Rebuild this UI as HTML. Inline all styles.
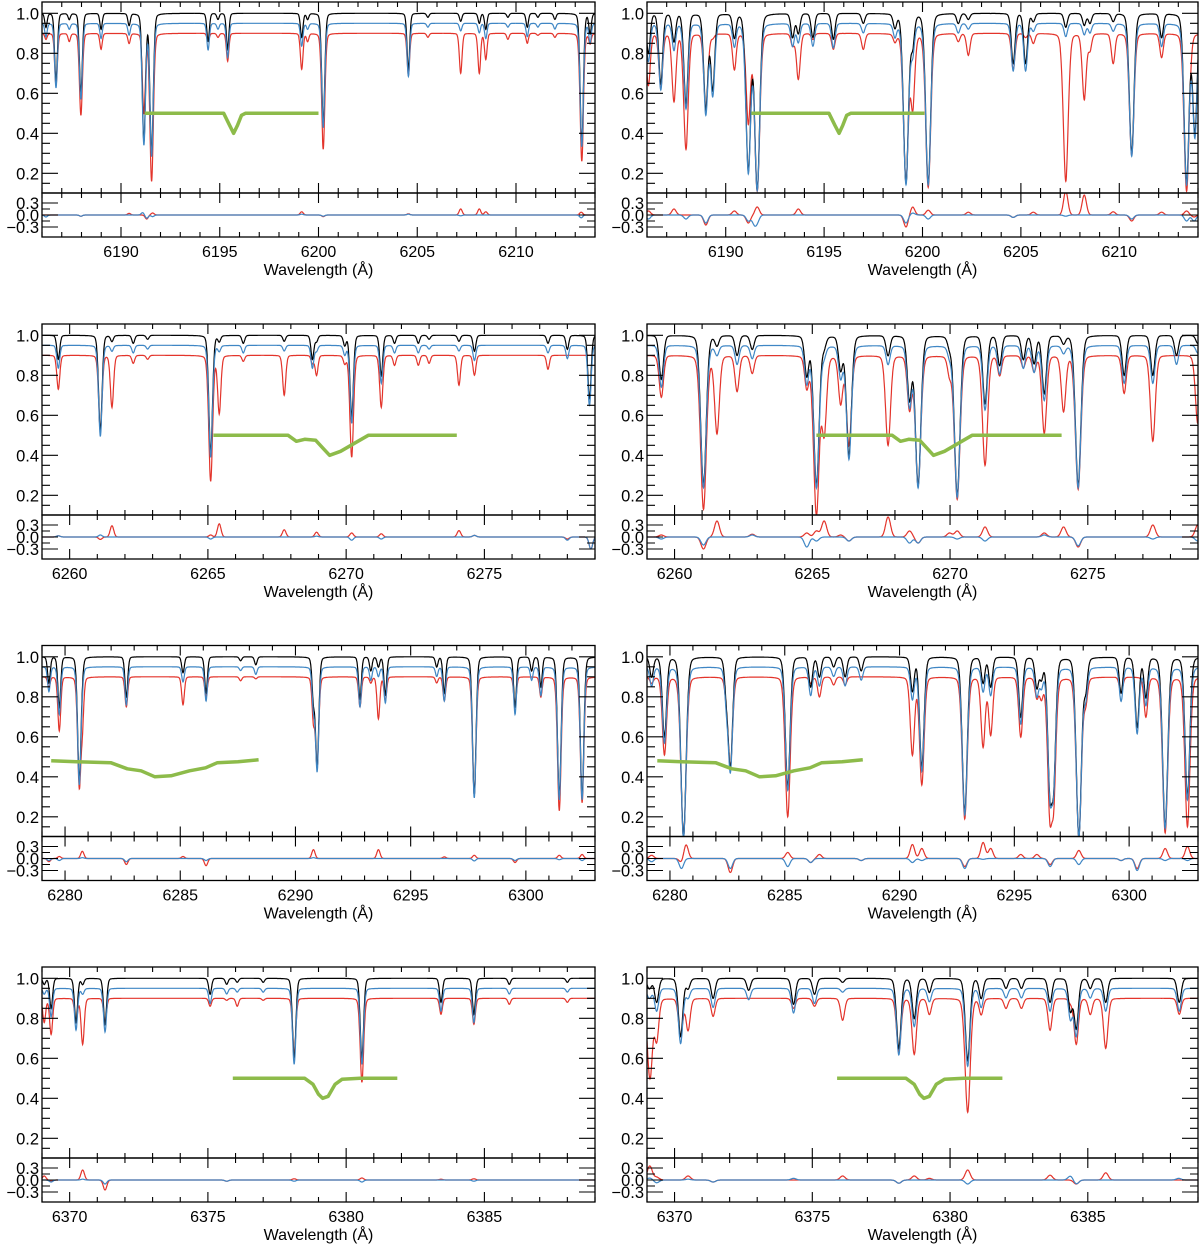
<!DOCTYPE html>
<html><head><meta charset="utf-8"><style>
html,body{margin:0;padding:0;background:#fff;}
svg{display:block;font-family:"Liberation Sans",Arial,sans-serif;}
</style></head><body>
<svg id="fig" width="1200" height="1245" viewBox="0 0 1200 1245" xmlns="http://www.w3.org/2000/svg"></svg>
<script>
// ---- Line lists: wavelength, black-model minimum, red-model minimum ----
const p1Wl=[6186.20,6186.71,6187.38,6187.97,6188.99,6190.41,6191.16,6191.55,6194.41,6194.91,6195.40,6199.15,6199.45,6200.24,6204.55,6205.54,6207.20,6208.14,6208.47,6209.59,6210.57,6211.11,6211.97,6213.33,6213.75];
const p1Bk=[0.93,0.66,0.97,0.60,0.92,0.94,0.36,0.30,0.86,0.97,0.82,0.88,0.97,0.45,0.72,0.98,0.96,0.95,0.92,0.98,0.93,0.98,0.97,0.35,0.90];
const p1Rd=[0.87,0.64,0.86,0.49,0.82,0.85,0.50,0.16,0.86,0.88,0.76,0.72,0.86,0.32,0.69,0.88,0.70,0.70,0.77,0.87,0.85,0.89,0.88,0.26,0.85];
const p1ResWl=[6186.2,6187.97,6190.41,6191.1,6191.3,6191.6,6199.15,6200.24,6204.55,6207.2,6208.14,6208.47,6213.3];
const p1ResRd=[0,-0.03,0.04,0.0,-0.1,0.05,0.08,-0.04,0.03,0.15,0.15,0.08,0.07];
const p1ResBl=[-0.05,-0.03,0,0.06,-0.08,-0.04,0.02,-0.03,0.02,-0.02,0,0,-0.07];
const p1GrWl=[6191.2,6195.2,6195.5,6195.7,6195.9,6196.1,6196.3,6200.0];
const p1GrV=[0.5,0.5,0.44,0.40,0.44,0.49,0.5,0.5];

const p2Wl=[6186.07,6186.70,6187.37,6187.98,6188.99,6189.34,6190.44,6191.15,6191.60,6193.40,6193.69,6194.43,6195.47,6196.99,6198.60,6199.16,6199.50,6200.29,6201.82,6202.33,6204.61,6205.24,6205.63,6207.28,6208.22,6208.51,6209.69,6210.63,6212.15,6213.42,6213.84];
const p2Bk=[0.80,0.65,0.86,0.55,0.52,0.62,0.88,0.21,0.12,0.88,0.90,0.88,0.87,0.95,0.93,0.15,0.85,0.15,0.95,0.97,0.75,0.75,0.96,0.93,0.94,0.95,0.96,0.30,0.88,0.15,0.40];
const p2Rd=[0.64,0.63,0.56,0.32,0.52,0.88,0.72,0.45,0.11,0.84,0.67,0.87,0.82,0.82,0.86,0.16,0.53,0.13,0.86,0.79,0.72,0.88,0.85,0.16,0.57,0.82,0.75,0.29,0.78,0.11,0.90];
const p2ResWl=[6186.07,6187.37,6187.98,6188.99,6190.44,6191.15,6191.45,6191.6,6193.69,6199.16,6199.5,6200.29,6202.33,6204.61,6205.63,6207.28,6208.22,6209.69,6210.63,6212.15,6213.42,6213.8];
const p2ResRd=[0.10,0.15,0.0,-0.25,0.10,-0.20,0.0,0.20,0.15,-0.30,0.20,0.12,0.07,-0.06,0.07,0.60,0.50,0.08,-0.15,0.07,0.10,-0.05];
const p2ResBl=[-0.10,0.0,-0.10,-0.20,0.0,-0.15,-0.20,-0.15,0.0,-0.20,0.05,-0.10,0.0,-0.06,0.0,-0.03,0.0,0.0,-0.10,0.0,-0.15,-0.15];
const p2GrWl=[6191.3,6195.25,6195.55,6195.76,6195.95,6196.15,6196.35,6200.1];
const p2GrV=[0.5,0.5,0.44,0.40,0.44,0.49,0.5,0.5];

const p3Wl=[6259.59,6261.11,6261.53,6262.30,6262.82,6265.10,6265.41,6266.28,6267.76,6268.78,6268.93,6269.95,6270.20,6271.27,6271.75,6272.61,6273.00,6274.08,6274.64,6277.30,6278.00,6278.80];
const p3Bk=[0.88,0.52,0.97,0.96,0.98,0.41,0.97,0.96,0.97,0.88,0.97,0.95,0.59,0.80,0.96,0.96,0.98,0.97,0.92,0.96,0.93,0.68];
const p3Rd=[0.73,0.52,0.64,0.86,0.88,0.27,0.61,0.87,0.70,0.86,0.80,0.86,0.39,0.64,0.85,0.85,0.86,0.75,0.80,0.83,0.90,0.90];
const p3ResWl=[6259.59,6261.11,6261.53,6265.10,6265.41,6267.76,6268.93,6270.20,6271.27,6274.08,6274.64,6278.0,6278.85];
const p3ResRd=[0.03,-0.06,0.28,0.05,0.33,0.18,0.12,0.10,0.08,0.16,0.04,-0.05,-0.3];
const p3ResBl=[0.03,0.05,0,-0.05,0,0,0.02,-0.08,-0.05,0,0.04,-0.08,-0.3];
const p3GrWl=[6265.2,6267.9,6268.2,6268.5,6268.9,6269.2,6269.4,6269.8,6270.3,6270.8,6274.0];
const p3GrV=[0.5,0.5,0.47,0.48,0.475,0.43,0.40,0.42,0.46,0.5,0.5];

const p4Wl=[6259.52,6261.05,6261.54,6262.27,6262.82,6264.80,6265.15,6265.43,6266.03,6266.33,6267.75,6268.53,6268.84,6269.98,6270.26,6271.27,6271.80,6272.66,6273.05,6273.42,6274.12,6274.65,6276.32,6277.36,6278.22,6278.99];
const p4Bk=[0.78,0.25,0.95,0.90,0.93,0.80,0.25,0.95,0.83,0.40,0.90,0.68,0.25,0.95,0.20,0.66,0.85,0.88,0.86,0.71,0.96,0.25,0.80,0.80,0.90,0.96];
const p4Rd=[0.69,0.13,0.51,0.72,0.81,0.74,0.10,0.51,0.66,0.45,0.45,0.63,0.25,0.81,0.18,0.35,0.80,0.84,0.82,0.51,0.62,0.23,0.71,0.47,0.90,0.56];
const p4ResWl=[6259.52,6261.05,6261.54,6262.82,6264.8,6265.15,6265.43,6266.03,6266.33,6267.75,6268.53,6268.84,6269.98,6270.26,6271.27,6273.42,6274.12,6274.65,6277.36,6278.99];
const p4ResRd=[0.05,-0.30,0.40,0.07,0.10,0.15,0.40,0.05,-0.10,0.50,0.15,-0.15,0.10,0.15,0.25,0.10,0.25,-0.25,0.30,0.30];
const p4ResBl=[-0.05,-0.20,0.0,0.05,-0.25,-0.1,0.0,0.0,-0.10,0.0,-0.15,-0.15,0.0,-0.05,-0.10,0.05,0.0,-0.22,-0.05,-0.1];
const p4GrWl=[6265.15,6267.9,6268.2,6268.5,6268.9,6269.2,6269.4,6269.8,6270.3,6270.8,6274.05];
const p4GrV=[0.5,0.5,0.47,0.48,0.475,0.43,0.40,0.42,0.46,0.5,0.5];

const p5Wl=[6279.30,6279.75,6280.62,6280.75,6282.66,6285.12,6286.12,6287.62,6288.28,6290.78,6290.94,6292.80,6293.27,6293.60,6293.90,6296.13,6296.46,6297.76,6299.53,6300.25,6300.65,6301.45,6302.44];
const p5Bk=[0.87,0.75,0.38,0.97,0.80,0.92,0.82,0.98,0.96,0.80,0.45,0.79,0.93,0.95,0.81,0.95,0.82,0.31,0.75,0.93,0.85,0.30,0.30];
const p5Rd=[0.85,0.63,0.35,0.69,0.75,0.76,0.80,0.88,0.89,0.69,0.45,0.75,0.87,0.69,0.78,0.87,0.78,0.31,0.75,0.90,0.80,0.23,0.27];
const p5ResWl=[6279.3,6279.75,6280.75,6282.66,6285.12,6286.12,6290.78,6293.6,6296.46,6297.76,6299.53,6301.45,6302.44];
const p5ResRd=[-0.08,0.05,0.18,-0.15,0.05,-0.18,0.22,0.22,0.04,0.08,-0.10,0.08,0.10];
const p5ResBl=[-0.05,-0.05,0.02,-0.08,0,-0.05,0.02,0,0,-0.06,-0.05,-0.03,-0.05];
const p5GrWl=[6279.4,6280.5,6282.0,6282.7,6283.3,6283.9,6284.6,6285.4,6286.1,6286.6,6287.5,6288.4];
const p5GrV=[0.48,0.475,0.47,0.44,0.43,0.40,0.405,0.43,0.445,0.47,0.475,0.485];

const p6Wl=[6279.20,6279.76,6280.59,6282.46,6282.63,6285.13,6286.13,6286.51,6287.13,6287.63,6288.33,6290.56,6290.97,6292.84,6293.64,6293.97,6295.28,6295.98,6296.18,6296.56,6296.70,6297.81,6298.11,6299.65,6300.35,6300.73,6301.57,6302.54];
const p6Bk=[0.90,0.60,0.10,0.85,0.45,0.35,0.85,0.90,0.95,0.90,0.93,0.83,0.45,0.22,0.87,0.85,0.70,0.85,0.90,0.35,0.40,0.10,0.85,0.82,0.65,0.80,0.15,0.30];
const p6Rd=[0.87,0.51,0.10,0.82,0.45,0.20,0.87,0.80,0.86,0.86,0.90,0.51,0.36,0.19,0.55,0.61,0.60,0.80,0.80,0.21,0.30,0.10,0.78,0.82,0.90,0.70,0.12,0.15];
const p6ResWl=[6279.2,6280.5,6280.7,6282.63,6285.13,6286.13,6286.51,6288.33,6290.56,6290.97,6292.84,6293.64,6293.97,6295.28,6295.98,6296.56,6297.81,6299.65,6300.35,6301.57,6302.54];
const p6ResRd=[0.08,-0.1,0.35,-0.35,0.15,-0.1,0.10,-0.05,0.35,0.25,-0.20,0.40,0.25,0.10,0.10,-0.15,0.20,-0.05,-0.25,0.25,0.30];
const p6ResBl=[-0.08,-0.25,0,-0.25,-0.20,-0.10,0.0,-0.05,-0.10,-0.05,-0.25,-0.02,0.0,0.0,0.0,-0.2,-0.15,-0.05,-0.30,-0.05,-0.05];
const p6GrWl=[6279.45,6280.5,6282.0,6282.7,6283.3,6283.9,6284.6,6285.4,6286.1,6286.6,6287.5,6288.4];
const p6GrV=[0.48,0.475,0.47,0.44,0.43,0.40,0.405,0.43,0.445,0.47,0.475,0.485];

const p7Wl=[6369.08,6369.33,6370.23,6370.47,6371.28,6375.08,6375.68,6376.06,6377.0,6378.12,6380.57,6383.43,6384.62,6385.9,6388.0];
const p7Bk=[0.97,0.85,0.78,0.97,0.77,0.92,0.97,0.98,0.98,0.60,0.60,0.88,0.82,0.97,0.98];
const p7Rd=[0.78,0.72,0.78,0.67,0.78,0.86,0.89,0.86,0.89,0.62,0.48,0.82,0.77,0.87,0.88];
const p7ResWl=[6369.08,6369.33,6370.47,6371.28,6375.68,6378.12,6380.57,6383.43,6384.62];
const p7ResRd=[0.10,-0.03,0.25,-0.25,-0.03,0.03,0.05,0.02,0.03];
const p7ResBl=[0,-0.05,0.02,-0.10,-0.03,-0.03,-0.05,0,-0.03];
const p7GrWl=[6375.9,6378.5,6378.8,6379.0,6379.15,6379.35,6379.6,6379.85,6380.5,6381.85];
const p7GrV=[0.5,0.5,0.47,0.42,0.40,0.41,0.47,0.495,0.5,0.5];

const p8Wl=[6369.05,6369.12,6369.35,6370.22,6370.49,6371.40,6372.69,6374.32,6375.08,6376.10,6378.14,6378.70,6379.25,6380.64,6381.13,6382.03,6382.59,6383.63,6384.37,6384.58,6385.09,6385.65,6388.32];
const p8Bk=[0.97,0.97,0.88,0.71,0.95,0.90,0.94,0.87,0.92,0.98,0.65,0.80,0.93,0.59,0.90,0.95,0.95,0.88,0.84,0.75,0.95,0.88,0.88];
const p8Rd=[0.78,0.55,0.69,0.71,0.74,0.81,0.90,0.85,0.86,0.79,0.63,0.62,0.82,0.33,0.82,0.85,0.85,0.74,0.88,0.67,0.82,0.65,0.82];
const p8ResWl=[6369.1,6369.35,6370.49,6371.4,6374.32,6376.1,6378.14,6378.7,6379.25,6380.64,6383.63,6384.37,6384.58,6385.65,6388.3];
const p8ResRd=[0.35,0.07,0.10,-0.05,0.0,0.10,-0.08,0.10,0.04,0.25,0.12,0.0,-0.10,0.18,0.0];
const p8ResBl=[0.05,-0.07,0.02,-0.05,0.04,0.0,-0.08,0.0,0.0,-0.10,0.0,0.10,-0.10,0.0,0.04];
const p8GrWl=[6375.9,6378.4,6378.7,6378.9,6379.05,6379.25,6379.5,6379.8,6380.5,6381.9];
const p8GrV=[0.5,0.5,0.47,0.42,0.40,0.41,0.47,0.495,0.5,0.5];

// axis ranges (Å) per row and tick labels
const rowRanges=[[6186,6214],[6259,6279],[6279,6303],[6369,6389]];
const row1Ticks=[6190,6195,6200,6205,6210];
const row2Ticks=[6260,6265,6270,6275];
const row3Ticks=[6280,6285,6290,6295,6300];
const row4Ticks=[6370,6375,6380,6385];
const mainYTicks=[0.2,0.4,0.6,0.8,1.0];
const mainYLabels=["0.2","0.4","0.6","0.8","1.0"];
const resYTicks=[0.3,0.0,-0.3];
const resYLabels=["0.3","0.0","\u22120.3"];

const NS="http://www.w3.org/2000/svg";
const svg=document.getElementById('fig');
function mk(tag,attrs,parent){const e=document.createElementNS(NS,tag);for(const k in attrs)e.setAttribute(k,attrs[k]);(parent||svg).appendChild(e);return e;}

const rowTops=[2,324,645.5,967];
const colX=[[42,595],[647,1198]];
const panels=[
 {r:0,c:0,wl:p1Wl,bk:p1Bk,rd:p1Rd,rw:p1ResWl,rr:p1ResRd,rb:p1ResBl,gw:p1GrWl,gv:p1GrV,ticks:row1Ticks,sig:0.06},
 {r:0,c:1,wl:p2Wl,bk:p2Bk,rd:p2Rd,rw:p2ResWl,rr:p2ResRd,rb:p2ResBl,gw:p2GrWl,gv:p2GrV,ticks:row1Ticks,sig:0.085},
 {r:1,c:0,wl:p3Wl,bk:p3Bk,rd:p3Rd,rw:p3ResWl,rr:p3ResRd,rb:p3ResBl,gw:p3GrWl,gv:p3GrV,ticks:row2Ticks,sig:0.05},
 {r:1,c:1,wl:p4Wl,bk:p4Bk,rd:p4Rd,rw:p4ResWl,rr:p4ResRd,rb:p4ResBl,gw:p4GrWl,gv:p4GrV,ticks:row2Ticks,sig:0.07},
 {r:2,c:0,wl:p5Wl,bk:p5Bk,rd:p5Rd,rw:p5ResWl,rr:p5ResRd,rb:p5ResBl,gw:p5GrWl,gv:p5GrV,ticks:row3Ticks,sig:0.055},
 {r:2,c:1,wl:p6Wl,bk:p6Bk,rd:p6Rd,rw:p6ResWl,rr:p6ResRd,rb:p6ResBl,gw:p6GrWl,gv:p6GrV,ticks:row3Ticks,sig:0.075},
 {r:3,c:0,wl:p7Wl,bk:p7Bk,rd:p7Rd,rw:p7ResWl,rr:p7ResRd,rb:p7ResBl,gw:p7GrWl,gv:p7GrV,ticks:row4Ticks,sig:0.05},
 {r:3,c:1,wl:p8Wl,bk:p8Bk,rd:p8Rd,rw:p8ResWl,rr:p8ResRd,rb:p8ResBl,gw:p8GrWl,gv:p8GrV,ticks:row4Ticks,sig:0.07}
];

function profile(dx){ // Gaussian core with Lorentzian wings (pseudo-Voigt)
  return 0.82*Math.exp(-0.5*dx*dx)+0.18/(1+dx*dx);
}

panels.forEach((p,i)=>{
  const top=rowTops[p.r],xl=colX[p.c][0],xr=colX[p.c][1];
  const w0=rowRanges[p.r][0],w1=rowRanges[p.r][1];
  const X=l=>xl+(l-w0)/(w1-w0)*(xr-xl);
  const YM=v=>top+11.3+(1-v)*200;
  const mainB=top+191,resB=top+235;
  const YR=v=>top+213-v*40;
  const g=mk('g',{});
  
  
  const defs=mk('defs',{},g);
  const cm=mk('clipPath',{id:'cm'+i},defs);mk('rect',{x:xl,y:top,width:xr-xl,height:191},cm);
  const cr=mk('clipPath',{id:'cr'+i},defs);mk('rect',{x:xl,y:mainB,width:xr-xl,height:44},cr);
  function spec(cont,mins,isRed){
    let d='';
    for(let l=w0;l<=w1+1e-9;l+=0.01){
      let f=1;
      for(let k=0;k<p.wl.length;k++){
        const depth=isRed?Math.max(0,1-mins[k]/0.9):Math.max(0,1-mins[k]);
        const s=p.sig*(1+0.6*depth);
        const dx=(l-p.wl[k])/s;
        if(Math.abs(dx)<25)f*=1-depth*profile(dx);
      }
      d+=(d?'L':'M')+X(l).toFixed(1)+' '+YM(cont*f).toFixed(1);
    }
    return d;
  }
  function resid(vals){
    let d='';
    for(let l=w0;l<=w1+1e-9;l+=0.01){
      let v=0;
      for(let k=0;k<p.rw.length;k++){const dx=(l-p.rw[k])/(p.sig*1.3);if(Math.abs(dx)<6)v+=vals[k]*Math.exp(-0.5*dx*dx);}
      d+=(d?'L':'M')+X(l).toFixed(1)+' '+YR(v).toFixed(1);
    }
    return d;
  }
  const gm=mk('g',{'clip-path':'url(#cm'+i+')'},g);
  const red=mk('path',{d:spec(0.9,p.rd,true),fill:'none',stroke:'#e3342b','stroke-width':1.2},gm);
  
  
  const blk=mk('path',{d:spec(1.0,p.bk,false),fill:'none',stroke:'#000','stroke-width':1.2},gm);
  
  
  const blu=mk('path',{d:spec(0.95,p.bk,false),fill:'none',stroke:'#3f86c4','stroke-width':1.2},gm);
  
  
  let gd='';p.gw.forEach((l,k)=>{gd+=(k?'L':'M')+X(l).toFixed(1)+' '+YM(p.gv[k]).toFixed(1);});
  const grn=mk('path',{d:gd,fill:'none',stroke:'#8dbb4a','stroke-width':3.5,'stroke-linejoin':'round'},gm);
  
  
  const gr=mk('g',{'clip-path':'url(#cr'+i+')'},g);
  const rr=mk('path',{d:resid(p.rr),fill:'none',stroke:'#e3342b','stroke-width':1.2},gr);
  
  
  const rb=mk('path',{d:resid(p.rb),fill:'none',stroke:'#3f86c4','stroke-width':1.2},gr);
  
  
  const f1=mk('rect',{x:xl,y:top,width:xr-xl,height:191,fill:'none',stroke:'#000','stroke-width':1.3},g);
  
  
  const f2=mk('rect',{x:xl,y:mainB,width:xr-xl,height:44,fill:'none',stroke:'#000','stroke-width':1.3},g);
  
  
  let td='';
  for(let l=Math.ceil(w0);l<=w1;l++){
    const x=X(l),maj=(l%5===0),L=maj?10:5;
    td+=`M${x} ${top}v${L}M${x} ${mainB}v${L}M${x} ${resB}v${-L}M${x} ${mainB}v${-L}`;
  }
  for(let v=0.15;v<=1.05;v+=0.05){
    const y=YM(v);const maj=Math.abs(v*5-Math.round(v*5))<1e-6;const L=maj?16:8;
    td+=`M${xl} ${y}h${L}M${xr} ${y}h${-L}`;
  }
  [0.3,0.15,0,-0.15,-0.3].forEach(v=>{const y=YR(v);const L=(Math.abs(v)===0.15)?8:16;td+=`M${xl} ${y}h${L}M${xr} ${y}h${-L}`;});
  mk('path',{d:td,stroke:'#000','stroke-width':1.1,fill:'none'},g);
  mainYTicks.forEach((v,k)=>{const t=mk('text',{x:xl-3,y:YM(v)+6,'text-anchor':'end','font-size':16.5},g);t.textContent=mainYLabels[k];
    
    });
  resYTicks.forEach((v,k)=>{const t=mk('text',{x:xl-3,y:YR(v)+6,'text-anchor':'end','font-size':16.5},g);t.textContent=resYLabels[k];
    
    });
  p.ticks.forEach(l=>{const t=mk('text',{x:X(l),y:top+255,'text-anchor':'middle','font-size':16},g);t.textContent=String(l);
    
    });
  const tt=mk('text',{x:(xl+xr)/2,y:top+273,'text-anchor':'middle','font-size':16},g);
  tt.textContent='Wavelength (\u00C5)';
  
  
});
</script>
</body></html>
